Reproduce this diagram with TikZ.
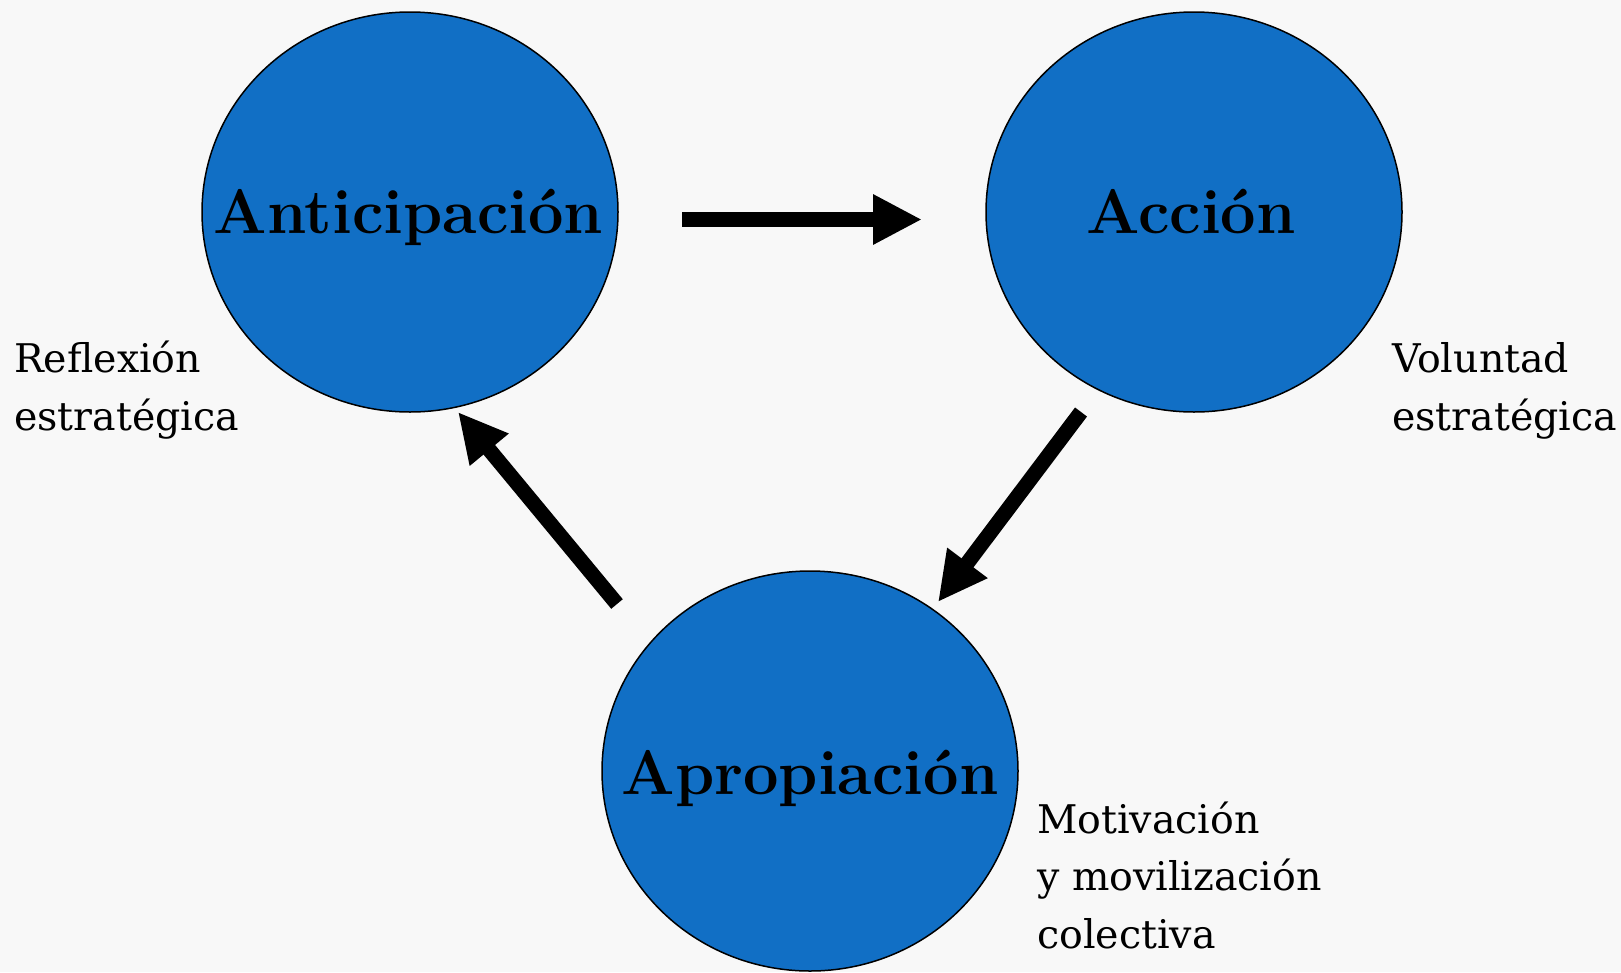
\documentclass[tikz,border=0pt]{standalone}
\usepackage{fontspec}
\newfontfamily\sidefont{DejaVu Serif}
\usetikzlibrary{arrows.meta,shapes.geometric}
\definecolor{bluefill}{RGB}{17,111,197}
\definecolor{bgcol}{RGB}{248,248,248}
\begin{document}
\begin{tikzpicture}[x=1pt,y=-1pt,
  circ/.style={ellipse,draw=black,line width=1.5pt,fill=bluefill,minimum width=416pt,minimum height=400pt,inner sep=0pt},
  big/.style={font=\fontsize{63}{76}\selectfont\bfseries,inner sep=0pt,anchor=base},
  side/.style={font=\sidefont\fontsize{39.5}{57.5}\selectfont,inner sep=0pt,anchor=base west,align=left},
  arr/.style={line width=15pt,-{Triangle[length=49pt,width=47pt]}}]
\fill[bgcol] (0,0) rectangle (1621,972);
\useasboundingbox (0,0) rectangle (1621,972);
\node[circ] (ant) at (410,212) {};
\node[circ] (acc) at (1194,212) {};
\node[circ] (apr) at (810,771) {};
\node[big] (tant) at (408.5,233) {Anticipación};
\node[big] (tacc) at (1191,233) {Acción};
\node[big] (tapr) at (810,794) {Apropiación};
\node[side] (lref) at (14,430) {Reflexión\\estratégica};
\node[side] (lvol) at (1392,430) {Voluntad\\estratégica};
\node[side] (lmot) at (1037,948) {Motivación\\y movilización\\colectiva};
\coordinate (a1s) at (682,219.5);
\coordinate (a1e) at (922,219.5);
\coordinate (a2s) at (1081,412);
\coordinate (a2e) at (938,602);
\coordinate (a3s) at (617,604);
\coordinate (a3e) at (458,412);
\draw[arr] (a1s) -- (a1e);
\draw[arr] (a2s) -- (a2e);
\draw[arr] (a3s) -- (a3e);
\end{tikzpicture}
\end{document}
